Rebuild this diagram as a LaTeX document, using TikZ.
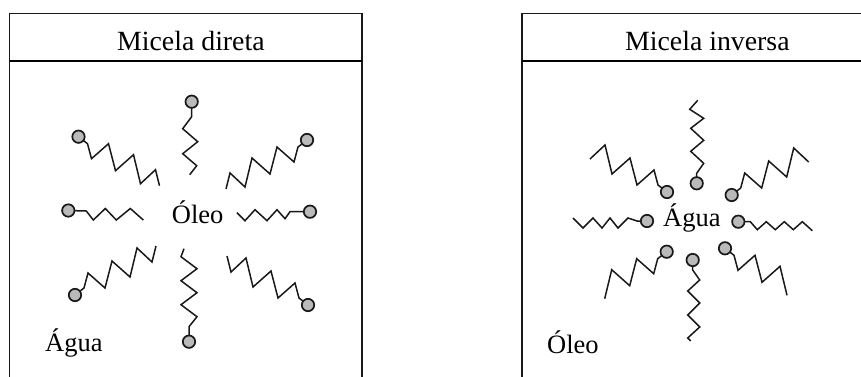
\documentclass[tikz,border=0pt]{standalone}
\usepackage{fontspec}
\setmainfont{Liberation Serif}
\begin{document}
\begin{tikzpicture}[x=1pt,y=-1pt,
  frame/.style={line width=1.6pt, draw=black!90},
  divider/.style={line width=2.4pt, draw=black},
  chain/.style={line width=1.5pt, draw=black!90, line join=miter},
  headball/.style={line width=1.7pt, draw=black!90, fill=black!27},
  title/.style={font=\fontsize{27.8}{30}\selectfont, inner sep=0pt, anchor=base west},
  label/.style={font=\fontsize{26.5}{28}\selectfont, inner sep=0pt, anchor=base west},
  % tilted surfactant: polar head at the origin, sawtooth tail
  pics/saw/.style={code={
    \draw[chain] (0,0)--(9,7)--(13,22)--(30,7)--(37,34)--(55,18)--(62,47)--(77,33)--(81,49);
    \draw[headball] (0,0) circle[radius=6.2];}},
  pics/saw short/.style={code={
    \draw[chain] (0,0)--(9,7)--(13,22)--(30,7)--(37,34)--(55,18)--(62,47)--(77,33);
    \draw[headball] (0,0) circle[radius=6.2];}},
  pics/saw shorter/.style={code={
    \draw[chain] (0,0)--(9,7)--(13,22)--(30,7)--(37,34)--(55,18)--(62,47);
    \draw[headball] (0,0) circle[radius=6.2];}},
  pics/ball/.style={code={\draw[headball] (0,0) circle[radius=6.2];}},
]
\useasboundingbox (0,0) rectangle (861,376);
\clip (0,0) rectangle (861,376);

% ---------- frames ----------
\draw[frame] (9.5,400) -- (9.5,13.3) -- (361.7,13.3) -- (361.7,400);
\draw[divider] (9.5,61) -- (361.7,61);
\draw[frame] (521.7,400) -- (521.7,13.3) -- (900,13.3);
\draw[divider] (521.7,61) -- (900,61);

\node[title] (hdrA) at (117,50.5) {Micela direta};
\node[title] (hdrB) at (625,50.5) {Micela inversa};

% ---------- direct micelle: heads outward ----------
\begin{scope}[shift={(191.7,101.7)}]
  \draw[chain] (0,0)--(0,15)--(-9,27)--(6,40)--(-9,52)--(5,64)--(-2,73);
  \pic {ball};
\end{scope}
\begin{scope}[shift={(189,341.7)}]
  \draw[chain] (0,0)--(0,-15)--(8,-25)--(-8,-37)--(8,-49)--(-8,-61)--(8,-73)--(-8,-85)--(-5,-93);
  \pic {ball};
\end{scope}
\begin{scope}[shift={(68.3,210.5)}]
  \draw[chain] (0,0)--(18,0.5)--(25,9.5)--(37,-2)--(48,9.5)--(62,-2)--(75,9.5);
  \pic {ball};
\end{scope}
\begin{scope}[shift={(310,211.7)}]
  \draw[chain] (0,0)--(-20,0)--(-25,7)--(-33,-2)--(-43,9)--(-55,-2)--(-65,9)--(-73,1);
  \pic {ball};
\end{scope}
\pic at (78.5,136.7) {saw};
\pic[xscale=-1] at (307,140) {saw};
\pic[yscale=-1] at (75,295) {saw};
\pic[xscale=-1,yscale=-1] at (308,305) {saw};

\node[label] (oilA) at (171.7,223) {Óleo};
\node[label] (waterA) at (45,351.7) {Água};

% ---------- inverse micelle: heads inward ----------
\begin{scope}[shift={(696.7,183.3)}]
  \draw[chain] (0,0)--(0,-10)--(7,-20)--(-6,-32)--(7,-43)--(-6,-55)--(7,-65)--(-7,-74)--(1,-83);
  \pic {ball};
\end{scope}
\begin{scope}[shift={(692.7,260)}]
  \draw[chain] (0,0)--(0,10)--(7,20)--(-5,31)--(7,43)--(-5,55)--(7,67)--(-5,78)--(-2,81);
  \pic {ball};
\end{scope}
\begin{scope}[shift={(647,221)}]
  \draw[chain] (0,0)--(-10,0)--(-19,-3)--(-29,7)--(-37,-3)--(-45,7)--(-54,-3)--(-64,7)--(-74,-3);
  \pic {ball};
\end{scope}
\begin{scope}[shift={(738.3,221.7)}]
  \draw[chain] (0,0)--(12,0)--(19,8)--(28,0)--(37,8)--(46,0)--(55,8)--(64,0)--(74,9);
  \pic {ball};
\end{scope}
\pic[xscale=-1,yscale=-1] at (667,192) {saw short};
\pic[yscale=-1] at (731.7,195) {saw short};
\pic[xscale=-1] at (666.7,251.7) {saw shorter};
\pic at (725,248.3) {saw shorter};

\node[label] (waterB) at (663,226.7) {Água};
\node[label] (oilB) at (547,353) {Óleo};
\end{tikzpicture}
\end{document}
